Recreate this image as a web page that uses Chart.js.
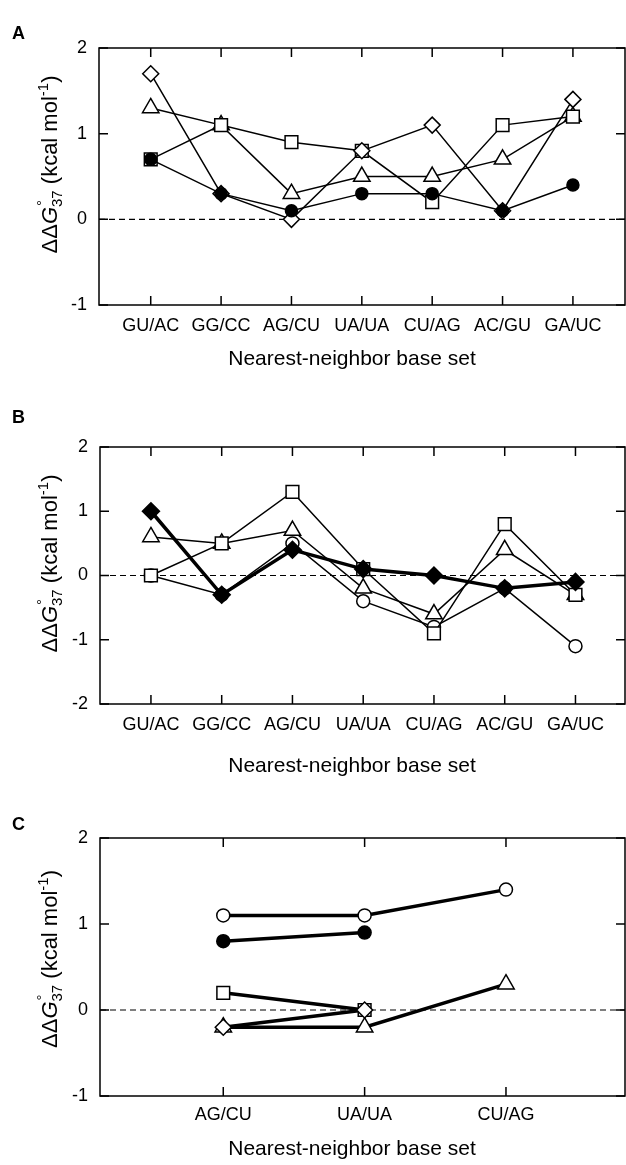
<!DOCTYPE html>
<html>
<head>
<meta charset="utf-8">
<script src="https://cdn.jsdelivr.net/npm/chart.js@4.4.0/dist/chart.umd.min.js"></script>
<style>
  html, body { margin: 0; padding: 0; background: #fff; }
  #wrap { position: relative; width: 626px; height: 1165px; overflow: hidden; }
  canvas { position: absolute; left: 0; }
</style>
</head>
<body>
<div id="wrap">
  <canvas id="chartA" width="626" height="385" style="top:0"></canvas>
  <canvas id="chartB" width="626" height="395" style="top:390px"></canvas>
  <canvas id="chartC" width="626" height="365" style="top:800px"></canvas>
</div>
<script>
// A: 7 nearest-neighbor sets
const catsA = ['GU/AC', 'GG/CC', 'AG/CU', 'UA/UA', 'CU/AG', 'AC/GU', 'GA/UC']
const aCircle = [0.7, 0.3, 0.1, 0.3, 0.3, 0.1, 0.4]
const aDiamond = [1.7, 0.3, 0.0, 0.8, 1.1, 0.1, 1.4]
const aSquare = [0.7, 1.1, 0.9, 0.8, 0.2, 1.1, 1.2]
const aTriangle = [1.3, 1.1, 0.3, 0.5, 0.5, 0.7, 1.2]
const yTicksA = [-1, 0, 1, 2]

// B
const catsB = ['GU/AC', 'GG/CC', 'AG/CU', 'UA/UA', 'CU/AG', 'AC/GU', 'GA/UC']
const bDiamond = [1.0, -0.3, 0.4, 0.1, 0.0, -0.2, -0.1]
const bSquare = [0.0, 0.5, 1.3, 0.1, -0.9, 0.8, -0.3]
const bTriangle = [0.6, 0.5, 0.7, -0.2, -0.6, 0.4, -0.3]
const bCircle = [0.0, -0.3, 0.5, -0.4, -0.8, -0.2, -1.1]
const yTicksB = [-2, -1, 0, 1, 2]

// C
const catsC = ['AG/CU', 'UA/UA', 'CU/AG']
const cOpenCircle = [1.1, 1.1, 1.4]
const cCircle = [0.8, 0.9, null]
const cDiamond = [-0.2, 0.0, null]
const cSquare = [0.2, 0.0, null]
const cTriangle = [-0.2, -0.2, 0.3]
const yTicksC = [-1, 0, 1, 2]

const FONT = "'Liberation Sans', Arial, Helvetica, sans-serif"

const pts = arr => arr.map((v, i) => ({ x: i + 1, y: v }))

function series(data, style, filled, lineW, radius) {
  return {
    data: pts(data),
    borderColor: '#000',
    borderWidth: lineW,
    pointStyle: style,
    pointRadius: radius,
    pointHoverRadius: radius,
    pointBorderWidth: 1.5,
    pointBorderColor: '#000',
    pointBackgroundColor: filled ? '#000' : '#fff',
    tension: 0,
    clip: 12
  }
}

// frame, inward ticks, zero line and titles
const framePlugin = {
  id: 'frame',
  beforeDatasetsDraw(chart) {
    const { ctx, chartArea: a, scales: { y } } = chart
    const y0 = y.getPixelForValue(0)
    ctx.save()
    ctx.strokeStyle = '#000'
    ctx.lineWidth = 1.2
    ctx.setLineDash([6, 4])
    ctx.beginPath()
    ctx.moveTo(a.left, y0)
    ctx.lineTo(a.right, y0)
    ctx.stroke()
    ctx.restore()
  },
  afterDraw(chart, args, opts) {
    const { ctx, chartArea: a, scales: { x, y } } = chart
    const tl = 9
    ctx.save()
    ctx.strokeStyle = '#000'
    ctx.lineWidth = 1.5
    ctx.strokeRect(a.left, a.top, a.right - a.left, a.bottom - a.top)
    ctx.beginPath()
    x.ticks.forEach(t => {
      const px = x.getPixelForValue(t.value)
      ctx.moveTo(px, a.bottom); ctx.lineTo(px, a.bottom - tl)
      ctx.moveTo(px, a.top); ctx.lineTo(px, a.top + tl)
    })
    y.ticks.forEach(t => {
      const py = y.getPixelForValue(t.value)
      ctx.moveTo(a.left, py); ctx.lineTo(a.left + tl, py)
      ctx.moveTo(a.right, py); ctx.lineTo(a.right - tl, py)
    })
    ctx.stroke()

    // panel letter
    ctx.fillStyle = '#000'
    ctx.font = `bold 18px ${FONT}`
    ctx.textAlign = 'left'
    ctx.textBaseline = 'alphabetic'
    ctx.fillText(opts.letter, 12, opts.letterY)

    // x title
    ctx.font = `21px ${FONT}`
    ctx.textAlign = 'center'
    ctx.fillText('Nearest-neighbor base set', 352, a.bottom + opts.xTitleGap)

    // y title: ΔΔG°37 (kcal mol-1)
    const big = `22px ${FONT}`
    const small = `15px ${FONT}`
    const parts = [
      { t: 'ΔΔ', f: big, dy: 0 },
      { t: 'G', f: `italic ${big}`, dy: 0 },
      { t: '°', f: small, dy: -10, noAdvance: true },
      { t: '37', f: small, dy: 5 },
      { t: ' (kcal mol', f: big, dy: 0 },
      { t: '-1', f: small, dy: -9 },
      { t: ')', f: big, dy: 0 }
    ]
    let total = 0
    parts.forEach(p => {
      ctx.font = p.f
      p.w = ctx.measureText(p.t).width
      if (!p.noAdvance) total += p.w
    })
    const cy = (a.top + a.bottom) / 2 + opts.yTitleShift
    ctx.translate(57, cy)
    ctx.rotate(-Math.PI / 2)
    ctx.textAlign = 'left'
    let cx = -total / 2
    parts.forEach(p => {
      ctx.font = p.f
      ctx.fillText(p.t, cx + (p.t === '°' ? 1 : 0), p.dy)
      if (!p.noAdvance) cx += p.w
    })
    ctx.restore()
  }
}

function makeChart(id, cats, datasets, yTicks, box) {
  const canvasH = document.getElementById(id).height
  return new Chart(document.getElementById(id), {
    type: 'line',
    data: { datasets },
    options: {
      responsive: false,
      animation: false,
      events: [],
      layout: { autoPadding: false, padding: { top: box.top, right: 1, left: 0, bottom: 0 } },
      plugins: {
        legend: { display: false },
        tooltip: { enabled: false },
        frame: box.frame
      },
      scales: {
        x: {
          type: 'linear',
          min: box.xmin,
          max: box.xmax,
          grid: { display: false },
          border: { display: false },
          afterBuildTicks: s => { s.ticks = cats.map((c, i) => ({ value: i + 1 })) },
          afterFit: s => {
            s.height = canvasH - box.bottom
            s.paddingLeft = 0; s.paddingRight = 0
          },
          ticks: {
            autoSkip: false,
            maxRotation: 0,
            padding: box.tickPad,
            color: '#000',
            font: { family: FONT, size: 18 },
            callback: v => cats[Math.round(v) - 1]
          }
        },
        y: {
          min: yTicks[0],
          max: yTicks[yTicks.length - 1],
          grid: { display: false },
          border: { display: false },
          afterBuildTicks: s => { s.ticks = yTicks.map(v => ({ value: v })) },
          afterFit: s => {
            s.width = box.left
            s.paddingTop = 0; s.paddingBottom = 0
          },
          ticks: {
            padding: 4,
            color: '#000',
            font: { family: FONT, size: 18 },
            callback: v => String(v)
          }
        }
      }
    },
    plugins: [framePlugin]
  })
}

// A
makeChart('chartA', catsA, [
  series(aCircle, 'circle', true, 1.5, 6),
  series(aDiamond, 'rectRot', false, 1.5, 8),
  series(aSquare, 'rect', false, 1.5, 9),
  series(aTriangle, 'triangle', false, 1.5, 9.5)
], yTicksA, {
  top: 48, bottom: 305, left: 99, xmin: 0.265, xmax: 7.74, tickPad: 2,
  frame: { letter: 'A', letterY: 39, xTitleGap: 60, yTitleShift: -12 }
})

// B (canvas top 390)
makeChart('chartB', catsB, [
  series(bDiamond, 'rectRot', true, 3.5, 8.5),
  series(bSquare, 'rect', false, 1.5, 9),
  series(bTriangle, 'triangle', false, 1.5, 9.5),
  series(bCircle, 'circle', false, 1.5, 6.5)
], yTicksB, {
  top: 57, bottom: 314, left: 100, xmin: 0.28, xmax: 7.70, tickPad: 2,
  frame: { letter: 'B', letterY: 33, xTitleGap: 68, yTitleShift: -12 }
})

// C (canvas top 800)
makeChart('chartC', catsC, [
  series(cOpenCircle, 'circle', false, 3.5, 6.5),
  series(cCircle, 'circle', true, 3.5, 6.5),
  series(cDiamond, 'rectRot', false, 3.5, 8),
  series(cSquare, 'rect', false, 3.5, 9),
  series(cTriangle, 'triangle', false, 3.5, 9.5)
], yTicksC, {
  top: 38, bottom: 296, left: 100, xmin: 0.128, xmax: 3.842, tickPad: 0,
  frame: { letter: 'C', letterY: 30, xTitleGap: 59, yTitleShift: -8 }
})
</script>
</body>
</html>
